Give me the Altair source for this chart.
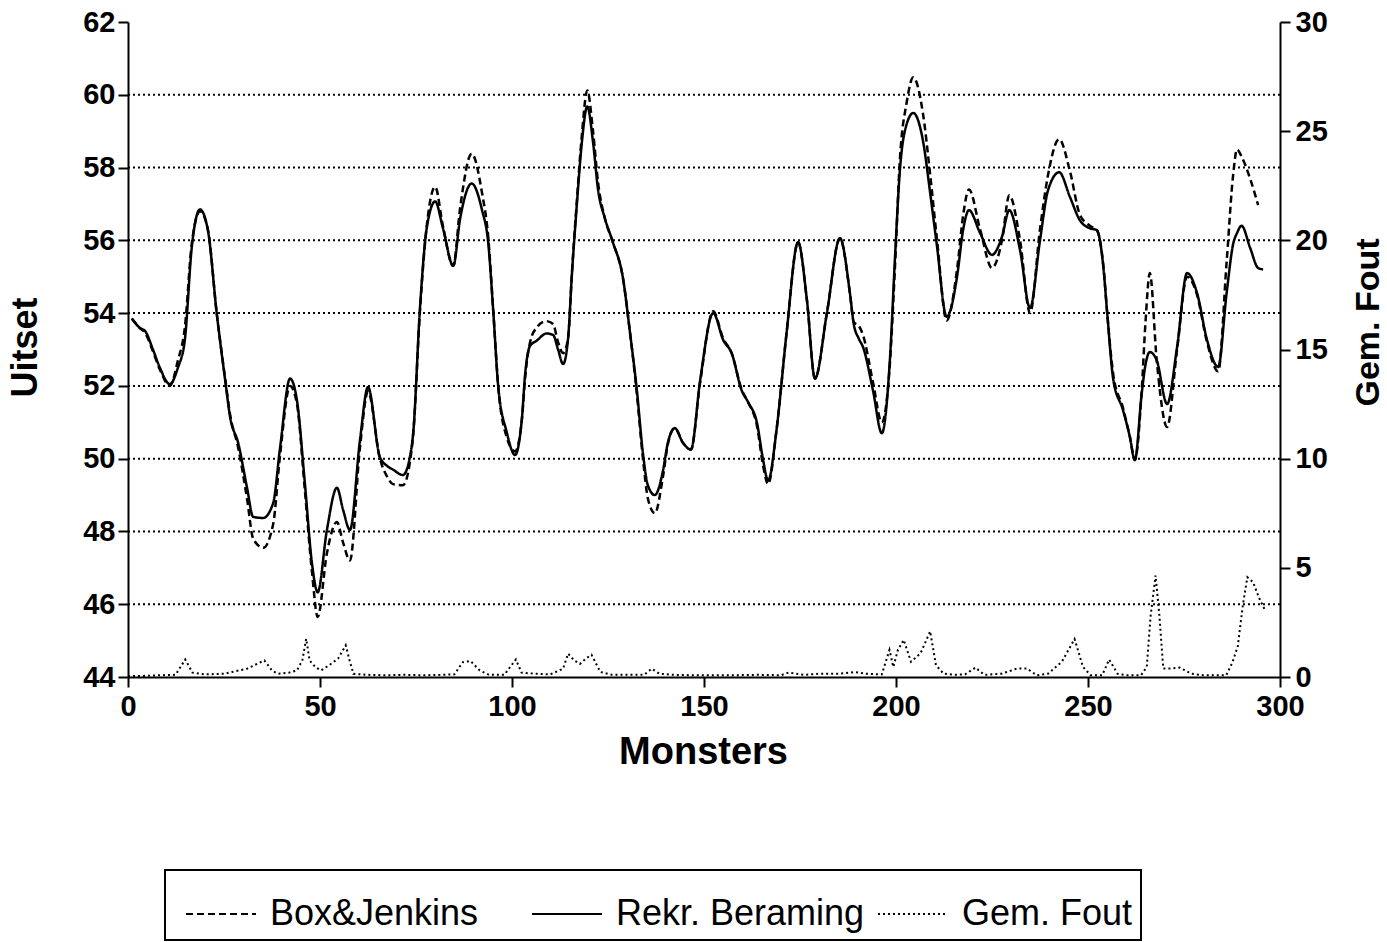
import altair as alt
import pandas as pd

# ---- data ----
x_main = [1, 3, 4.5, 6.5, 8.3, 10.9, 13, 14.8, 16.6, 18.75, 20.8, 23.1, 25.3, 26.6, 28.7, 31, 32.6, 35.2, 37.8, 39.6,
          42.2, 44, 46, 47.9, 49.4, 51.8, 54.4, 56, 57.8, 60.4, 62.5, 65.6, 67.5, 69, 71.6, 73.4, 74.3, 76, 77.8, 80,
          82, 84.7, 86.5, 89.5, 92.2, 93.8, 95.1, 96.4, 98.6, 100.8, 102.6, 103.4, 104.7, 106.4, 109, 110.7, 112, 113.3,
          114.6, 115.6, 116.9, 118.2, 119.6, 121.1, 122.4, 124.2, 126.3, 128.9, 130.7, 132.5, 134.1, 135.4, 137.2,
          139.3, 140.6, 142.4, 144.5, 146.6, 149, 152.4, 155, 157.2, 159.8, 161.5, 163.8, 165.4, 166.7, 168.9, 171.5,
          174.5, 176.8, 178.9, 182, 185.4, 188, 189, 190.3, 191.4, 194, 196.3, 198.4, 199.7, 201, 202.8, 204.5, 207,
          208.9, 210.6, 213.2, 215.9, 217.5, 219, 221.9, 225, 227.6, 229.5, 232.3, 234.9, 237.5, 239.6, 242.5, 245.3,
          247.9, 250.5, 252.3, 254, 255, 256.6, 259.1, 260.9, 262.2, 264, 265, 266.1, 267.9, 270.6, 273.2, 275.8,
          278.4, 281, 283.9, 286.1, 287.8, 288.8, 290, 292.2, 294.3, 295.6]

rekr = [53.85, 53.6, 53.5, 53.0, 52.5, 52.05, 52.5, 53.26, 55.8, 56.85, 56.28, 54.0, 52.16, 51.14, 50.43, 49.2, 48.4,
        48.37, 48.78, 50.3, 52.2, 51.6, 49.4, 47.13, 46.33, 48.04, 49.2, 48.6, 48.04, 50.5, 51.97, 50.04, 49.8, 49.7,
        49.55, 50.04, 50.74, 54.08, 56.34, 57.07, 56.34, 55.3, 56.6, 57.56, 56.83, 55.94, 54.08, 52.0, 50.74, 50.1,
        51.13, 52.3, 53.1, 53.24, 53.44, 53.4, 53.0, 52.6, 53.3, 55.06, 57.0, 58.7, 59.68, 58.7, 57.4, 56.6, 55.94,
        54.96, 53.49, 51.9, 50.15, 49.26, 49.0, 49.66, 50.44, 50.84, 50.44, 50.25, 52.16, 54.0, 53.26, 52.9, 51.88,
        51.55, 50.98, 49.96, 49.4, 50.8, 53.45, 55.95, 54.36, 52.2, 54.0, 56.06, 54.55, 53.7, 53.3, 53.07, 51.88,
        50.7, 52.7, 55.45, 57.9, 59.2, 59.5, 58.75, 57.3, 55.9, 53.9, 55.0, 56.3, 56.83, 56.2, 55.6, 56.1, 56.83,
        55.73, 54.14, 56.0, 57.38, 57.87, 57.19, 56.55, 56.33, 56.28, 55.26, 54.0, 52.16, 51.34, 50.6, 49.96, 51.8,
        52.6, 52.93, 52.7, 51.5, 53.07, 55.1, 54.55, 53.26, 52.52, 54.55, 55.9, 56.2, 56.4, 55.8, 55.24, 55.2]

box_jenkins = [53.85, 53.6, 53.45, 52.95, 52.45, 52.0, 52.7, 53.6, 55.9, 56.8, 56.3, 54.0, 52.2, 51.2, 50.3, 48.9,
               47.8, 47.55, 48.2, 50.1, 52.0, 51.5, 49.2, 46.9, 45.65, 47.4, 48.26, 47.7, 47.2, 50.3, 51.85, 50.0,
               49.5, 49.3, 49.27, 49.9, 50.7, 54.0, 56.4, 57.47, 56.4, 55.3, 56.9, 58.38, 57.3, 56.1, 54.1, 52.0,
               50.6, 50.2, 51.1, 52.2, 53.2, 53.6, 53.78, 53.7, 53.2, 52.9, 53.3, 55.1, 57.1, 58.9, 60.12, 59.0,
               57.6, 56.6, 55.94, 54.96, 53.49, 51.8, 50.0, 48.9, 48.5, 49.5, 50.4, 50.84, 50.44, 50.25, 52.1,
               54.05, 53.3, 52.9, 51.9, 51.55, 50.9, 49.8, 49.3, 50.8, 53.45, 55.95, 54.36, 52.2, 54.0, 56.06,
               54.55, 53.75, 53.65, 53.4, 52.1, 51.0, 52.6, 55.2, 58.2, 59.8, 60.48, 59.5, 57.8, 56.1, 53.8, 55.2,
               56.7, 57.4, 56.3, 55.24, 56.0, 57.24, 56.0, 54.0, 56.3, 57.8, 58.78, 57.9, 56.7, 56.4, 56.28, 55.3,
               54.0, 52.3, 51.4, 50.6, 49.96, 51.9, 53.8, 55.1, 52.7, 50.87, 53.0, 55.0, 54.5, 53.2, 52.4, 55.4,
               57.8, 58.5, 58.3, 57.7, 56.97, None]

x_fout = [0, 4, 8, 12.4, 14.9, 16.8, 20, 25, 31, 35.5, 37.5, 39, 42, 44, 45.4, 46.4, 47.3, 48.8, 50.3, 52.3, 54.7,
          56.7, 57.7, 58.7, 62, 67, 72, 77, 82, 85, 87.2, 89.2, 91.6, 94, 98, 101, 102.5, 106, 110, 113.3, 114.6,
          116.2, 117.7, 119.2, 120.7, 123, 126, 130, 134.4, 136.4, 138.4, 142, 147, 152, 158, 164, 170, 172, 176,
          180, 185, 189.3, 192, 196.3, 198.3, 199.3, 200.5, 202, 203.9, 206.4, 208.9, 210.4, 212.4, 215.5, 218,
          220.7, 223, 227.5, 231.6, 234.1, 236.6, 239.6, 243.2, 246.5, 248.7, 250.7, 253.7, 255.5, 257.7, 260,
          263.8, 265.3, 266.3, 267.6, 268.6, 269.6, 271.3, 273.9, 276.9, 280, 283, 286, 287.5, 289, 290.3, 291.5,
          293, 294.5, 296.2]

gem_fout = [0.05, 0.05, 0.08, 0.1, 0.8, 0.2, 0.12, 0.15, 0.38, 0.76, 0.3, 0.15, 0.2, 0.3, 0.76, 1.75, 0.76, 0.45,
            0.3, 0.53, 0.84, 1.45, 0.76, 0.15, 0.1, 0.08, 0.1, 0.08, 0.1, 0.12, 0.68, 0.73, 0.3, 0.1, 0.1, 0.8, 0.2,
            0.15, 0.12, 0.38, 1.07, 0.76, 0.6, 0.84, 1.02, 0.23, 0.1, 0.1, 0.1, 0.38, 0.15, 0.1, 0.08, 0.08, 0.08,
            0.1, 0.08, 0.2, 0.1, 0.15, 0.15, 0.23, 0.15, 0.12, 1.24, 0.46, 1.24, 1.7, 0.7, 1.09, 2.09, 0.54, 0.15,
            0.1, 0.12, 0.43, 0.1, 0.15, 0.39, 0.39, 0.08, 0.15, 0.7, 1.74, 0.46, 0.08, 0.08, 0.8, 0.15, 0.08, 0.08,
            0.46, 2.79, 4.65, 2.79, 0.39, 0.39, 0.43, 0.15, 0.08, 0.08, 0.08, 0.62, 1.4, 3.26, 4.57, 4.34, 3.64, 3.02]

series_names = ["Box&Jenkins", "Rekr. Beraming", "Gem. Fout"]
grid_values = [46, 48, 50, 52, 54, 56, 58, 60]
left_ticks = [44, 46, 48, 50, 52, 54, 56, 58, 60, 62]
right_ticks = [0, 5, 10, 15, 20, 25, 30]
x_ticks = [0, 50, 100, 150, 200, 250, 300]

assert len(x_main) == len(rekr) == len(box_jenkins)
assert len(x_fout) == len(gem_fout)

rows = []
for xv, a, b in zip(x_main, box_jenkins, rekr):
    if a is not None:
        rows.append({"x": xv, "series": series_names[0], "value": a})
    rows.append({"x": xv, "series": series_names[1], "value": b})
main_df = pd.DataFrame(rows)
fout_df = pd.DataFrame({"x": x_fout, "fout": gem_fout, "series": series_names[2]})
grid_df = pd.DataFrame({"value": grid_values})

FONT = "Liberation Sans"

xscale = alt.Scale(domain=[0, 300], nice=False, zero=False)
yscale = alt.Scale(domain=[44, 62], nice=False, zero=False)
dash_scale = alt.Scale(domain=series_names, range=[[7, 4], [1, 0], [2, 3]])

xaxis = alt.Axis(values=x_ticks, title="Monsters", titleFontSize=38, titleX=575, titleY=75,
                 titleBaseline="middle", labelFontSize=29, labelPadding=5, tickSize=10,
                 grid=False, labelFlush=False)
yaxis = alt.Axis(values=left_ticks, title="Uitset", titleFontSize=36, titleAngle=270,
                 titleX=-103, titleY=325, titleAlign="center", titleBaseline="middle",
                 labelFontSize=29, labelPadding=3, tickSize=10, grid=False, labelFlush=False)
yaxis_r = alt.Axis(values=right_ticks, orient="right", title="Gem. Fout", titleFontSize=34,
                   titleAngle=270, titleX=88, titleY=300, titleAlign="center", titleBaseline="middle",
                   labelFontSize=29, labelPadding=5, tickSize=10, grid=False, labelFlush=False)

legend = alt.Legend(title=None, orient="none", legendX=37, legendY=848, direction="horizontal",
                    symbolType="stroke", symbolSize=4900, symbolStrokeWidth=2, symbolStrokeColor="black",
                    symbolOffset=12, labelFontSize=36, labelFont=FONT, labelColor="black", labelOffset=13,
                    labelLimit=500, columnPadding=0, padding=8, gridAlign="all", strokeColor="black")

grid = alt.Chart(grid_df).mark_rule(color="black", strokeDash=[2, 3], strokeWidth=2).encode(
    y=alt.Y("value:Q", scale=yscale, axis=yaxis)
)

main = alt.Chart(main_df).mark_line(color="black", strokeWidth=2.5, interpolate="monotone").encode(
    x=alt.X("x:Q", scale=xscale, axis=xaxis),
    y=alt.Y("value:Q", scale=yscale, axis=yaxis),
    strokeDash=alt.StrokeDash("series:N", scale=dash_scale, legend=legend),
)

fout = alt.Chart(fout_df).mark_line(color="black", strokeWidth=2).encode(
    x=alt.X("x:Q", scale=xscale, axis=xaxis),
    y=alt.Y("fout:Q", scale=alt.Scale(domain=[0, 30], nice=False), axis=yaxis_r),
    strokeDash=alt.StrokeDash("series:N", scale=dash_scale, legend=legend),
)

chart = alt.layer(alt.layer(grid, main), fout).resolve_scale(y="independent").properties(
    width=1152, height=655,
    padding={"left": 128, "top": 22, "right": 107, "bottom": 265},
    autosize=alt.AutoSizeParams(type="none"),
    background="white",
).configure_view(strokeWidth=0).configure_axis(
    labelFont=FONT, titleFont=FONT, labelColor="black", titleColor="black",
    labelFontWeight="bold",
    domainColor="black", domainWidth=2, tickColor="black", tickWidth=2,
    titleFontWeight="bold",
).configure_legend(strokeWidth=2)

chart.save("out.html", embed_options={"renderer": "svg", "actions": False})
